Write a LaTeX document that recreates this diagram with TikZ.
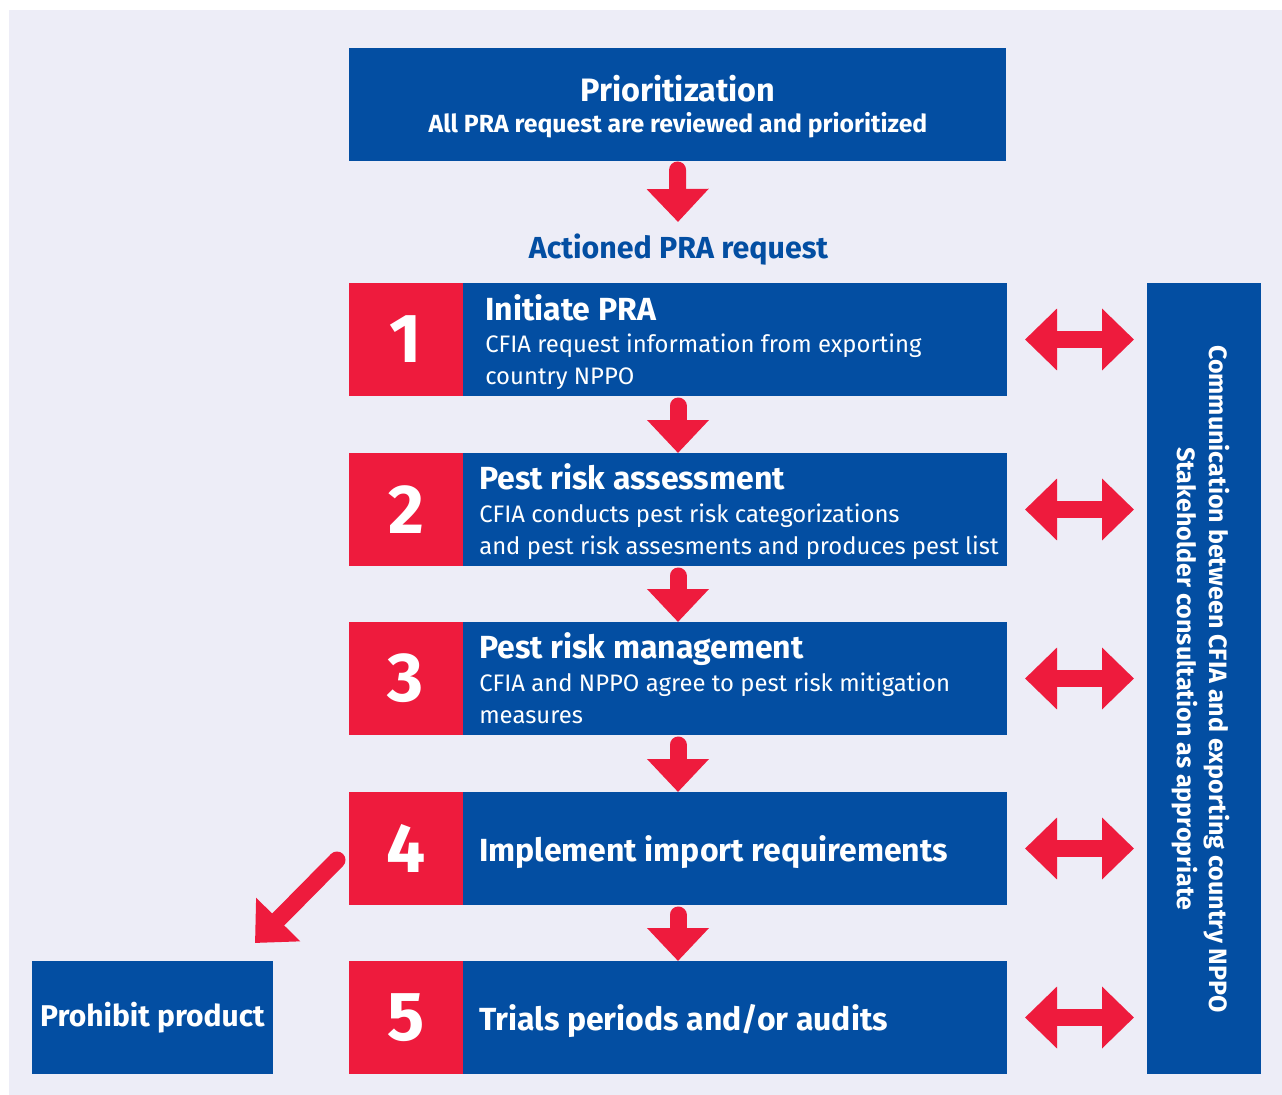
\documentclass[tikz,border=0pt]{standalone}
\usepackage{fontspec}
\setmainfont{Fira Sans}
\usetikzlibrary{arrows.meta}
\definecolor{cfblue}{HTML}{034EA2}
\definecolor{cfred}{HTML}{EE1B3D}
\definecolor{cfbg}{HTML}{EDEDF7}
\begin{document}
\begin{tikzpicture}[x=0.75pt,y=-0.75pt,
  bluebox/.style={fill=cfblue, inner sep=0pt, outer sep=0pt},
  stepbox/.style={bluebox, minimum width=493.5pt, minimum height=84.75pt},
  numbox/.style={fill=cfred, inner sep=0pt, outer sep=0pt, text=white,
    minimum width=85.5pt, minimum height=84.75pt,
    font=\fontsize{52}{52}\selectfont\bfseries},
  titletext/.style={anchor=base west, inner sep=0pt, text=white,
    font=\fontsize{24}{28}\selectfont\bfseries},
  desctext/.style={anchor=base west, inner sep=0pt, text=white,
    font=\fontsize{17.9}{24}\selectfont},
  flow/.style={draw=cfred, line width=12.75pt, line cap=round,
    -{Triangle[length=24.75pt, width=45pt]}},
  dbl/.style={draw=cfred, line width=12.75pt,
    {Triangle[length=24pt, width=45pt]}-{Triangle[length=24pt, width=45pt]}}
]
\useasboundingbox (0,0) rectangle (1282,1095);
\fill[white] (0,0) rectangle (1282,1095);
\fill[cfbg] (9,10) rectangle (1282,1095);

% top box
\node[bluebox, minimum width=492.75pt, minimum height=84.75pt] (top) at (677.5,104.5) {};
\node[anchor=base, inner sep=0pt, text=white, font=\fontsize{24.3}{29}\selectfont\bfseries] (toptitle) at (678,102) {Prioritization};
\node[anchor=base, inner sep=0pt, text=white, font=\fontsize{18.6}{22}\selectfont\bfseries] (topsub) at (678,133) {All PRA request are reviewed and prioritized};

\coordinate (a0) at (678,222);
\node[anchor=base, inner sep=0pt, text=cfblue, font=\fontsize{22.8}{27}\selectfont\bfseries] (act) at (678.5,258) {Actioned PRA request};

% steps
\node[stepbox] (st1) at (678,339.5) {};
\node[stepbox] (st2) at (678,509.5) {};
\node[stepbox] (st3) at (678,678.5) {};
\node[stepbox] (st4) at (678,848.5) {};
\node[stepbox] (st5) at (678,1017.5) {};
\node[numbox] (n1) at (406,339.5) {1};
\node[numbox] (n2) at (406,509.5) {2};
\node[numbox] (n3) at (406,678.5) {3};
\node[numbox] (n4) at (406,848.5) {4};
\node[numbox] (n5) at (406,1017.5) {5};

\node[titletext] (t1) at (485,320) {Initiate PRA};
\node[desctext] (d1) at (485,352) {\begin{tabular}[t]{@{}l@{}}CFIA request information from exporting\\country NPPO\end{tabular}};
\node[titletext] (t2) at (479,489) {Pest risk assessment};
\node[desctext] (d2) at (479,522) {\begin{tabular}[t]{@{}l@{}}CFIA conducts pest risk categorizations\\and pest risk assesments and produces pest list\end{tabular}};
\node[titletext] (t3) at (479,658) {Pest risk management};
\node[desctext] (d3) at (479,691) {\begin{tabular}[t]{@{}l@{}}CFIA and NPPO agree to pest risk mitigation\\measures\end{tabular}};
\node[titletext] (t4) at (479,861) {Implement import requirements};
\node[titletext] (t5) at (479,1030) {Trials periods and/or audits};

% communication box
\node[bluebox, minimum width=85.5pt, minimum height=593.25pt] (comm) at (1204,678.5) {};
\node[rotate=-90, align=center, inner sep=0pt, text=white,
  font=\fontsize{18.8}{24}\selectfont\bfseries] (commtext) at (1201,679)
  {Communication between CFIA and exporting country NPPO\\Stakeholder consultation as appropriate};

% prohibit
\node[bluebox, minimum width=180.75pt, minimum height=84.75pt, text=white,
  font=\fontsize{22.5}{27}\selectfont\bfseries] (pp) at (152.5,1017.5) {Prohibit product};

% vertical arrows
\draw[flow, shorten <=6.75pt] (top.south) -- (a0);
\draw[flow, shorten <=7.5pt] (st1.south) -- (st2.north);
\draw[flow, shorten <=7.5pt] (st2.south) -- (st3.north);
\draw[flow, shorten <=7.5pt] (st3.south) -- (st4.north);
\draw[flow, shorten <=7.5pt] (st4.south) -- (st5.north);

% diagonal arrow
\draw[flow] ([shift={(-12,11.5)}]st4.west) -- ([shift={(-18,-18)}]pp.north east);

% double arrows
\foreach \i in {1,...,5}{
  \draw[dbl, shorten <=13.5pt, shorten >=9.75pt] (st\i.east) -- (st\i.east -| comm.west);
}
\end{tikzpicture}
\end{document}
